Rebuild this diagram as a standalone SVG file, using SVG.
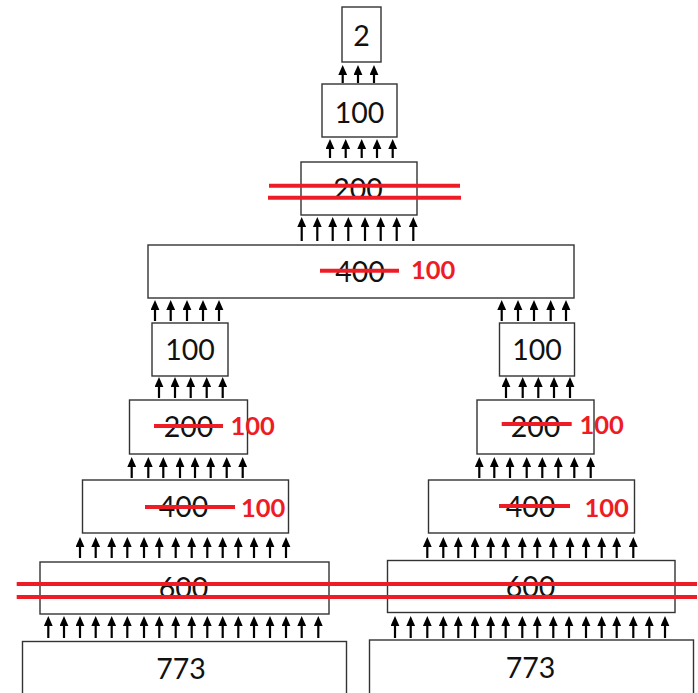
<svg xmlns="http://www.w3.org/2000/svg" width="698" height="693" viewBox="0 0 698 693">
<defs>
<style>
.box{fill:#fff;stroke:#333;stroke-width:1.4}
.t{font-family:Lato,"Liberation Sans",sans-serif;font-size:28.5px;fill:#111;text-anchor:middle}
.r{font-family:Lato,"Liberation Sans",sans-serif;font-size:25.5px;font-weight:bold;fill:#ee1c25}
.s{stroke:#ee1c25;stroke-width:4;fill:none}
.a{stroke:#000;stroke-width:2.2;marker-end:url(#h)}
</style>
<marker id="h" markerUnits="userSpaceOnUse" markerWidth="10" markerHeight="9" viewBox="0 0 9 8" refX="1" refY="4" orient="auto">
<path d="M0,0 L9,4 L0,8 Z" fill="#000"/>
</marker>
</defs>
<rect width="698" height="693" fill="#fff"/>

<g id="connectors">
<g>
<line class="a" x1="342.7" y1="83" x2="342.7" y2="74"/>
<line class="a" x1="358" y1="83" x2="358" y2="74"/>
<line class="a" x1="374" y1="83" x2="374" y2="74"/>
</g>
<g>
<line class="a" x1="330" y1="158" x2="330" y2="148"/>
<line class="a" x1="345.7" y1="158" x2="345.7" y2="148"/>
<line class="a" x1="361.7" y1="158" x2="361.7" y2="148"/>
<line class="a" x1="377" y1="158" x2="377" y2="148"/>
<line class="a" x1="392.7" y1="158" x2="392.7" y2="148"/>
</g>
<g>
<line class="a" x1="301.7" y1="241" x2="301.7" y2="226"/>
<line class="a" x1="317.3" y1="241" x2="317.3" y2="226"/>
<line class="a" x1="332.7" y1="241" x2="332.7" y2="226"/>
<line class="a" x1="348.3" y1="241" x2="348.3" y2="226"/>
<line class="a" x1="365" y1="241" x2="365" y2="226"/>
<line class="a" x1="380.7" y1="241" x2="380.7" y2="226"/>
<line class="a" x1="396.7" y1="241" x2="396.7" y2="226"/>
<line class="a" x1="413.3" y1="241" x2="413.3" y2="226"/>
</g>
<g>
<line class="a" x1="155" y1="321" x2="155" y2="309"/>
<line class="a" x1="170.7" y1="321" x2="170.7" y2="309"/>
<line class="a" x1="187" y1="321" x2="187" y2="309"/>
<line class="a" x1="203" y1="321" x2="203" y2="309"/>
<line class="a" x1="219" y1="321" x2="219" y2="309"/>
<line class="a" x1="501.7" y1="321" x2="501.7" y2="309"/>
<line class="a" x1="518" y1="321" x2="518" y2="309"/>
<line class="a" x1="534" y1="321" x2="534" y2="309"/>
<line class="a" x1="550.7" y1="321" x2="550.7" y2="309"/>
<line class="a" x1="566" y1="321" x2="566" y2="309"/>
</g>
<g>
<line class="a" x1="159" y1="398" x2="159" y2="386"/>
<line class="a" x1="175" y1="398" x2="175" y2="386"/>
<line class="a" x1="190.7" y1="398" x2="190.7" y2="386"/>
<line class="a" x1="206.7" y1="398" x2="206.7" y2="386"/>
<line class="a" x1="222.7" y1="398" x2="222.7" y2="386"/>
<line class="a" x1="506" y1="398" x2="506" y2="386"/>
<line class="a" x1="522.7" y1="398" x2="522.7" y2="386"/>
<line class="a" x1="538.3" y1="398" x2="538.3" y2="386"/>
<line class="a" x1="554" y1="398" x2="554" y2="386"/>
<line class="a" x1="570" y1="398" x2="570" y2="386"/>
</g>
<g>
<line class="a" x1="131.7" y1="478" x2="131.7" y2="466"/>
<line class="a" x1="148.3" y1="478" x2="148.3" y2="466"/>
<line class="a" x1="163.3" y1="478" x2="163.3" y2="466"/>
<line class="a" x1="180" y1="478" x2="180" y2="466"/>
<line class="a" x1="195" y1="478" x2="195" y2="466"/>
<line class="a" x1="210.7" y1="478" x2="210.7" y2="466"/>
<line class="a" x1="226.7" y1="478" x2="226.7" y2="466"/>
<line class="a" x1="242.7" y1="478" x2="242.7" y2="466"/>
<line class="a" x1="479.3" y1="478" x2="479.3" y2="466"/>
<line class="a" x1="494.3" y1="478" x2="494.3" y2="466"/>
<line class="a" x1="510" y1="478" x2="510" y2="466"/>
<line class="a" x1="526.7" y1="478" x2="526.7" y2="466"/>
<line class="a" x1="542.3" y1="478" x2="542.3" y2="466"/>
<line class="a" x1="558.3" y1="478" x2="558.3" y2="466"/>
<line class="a" x1="574.3" y1="478" x2="574.3" y2="466"/>
<line class="a" x1="590.7" y1="478" x2="590.7" y2="466"/>
</g>
<g>
<line class="a" x1="80" y1="558" x2="80" y2="546"/>
<line class="a" x1="95.7" y1="558" x2="95.7" y2="546"/>
<line class="a" x1="111.7" y1="558" x2="111.7" y2="546"/>
<line class="a" x1="127.3" y1="558" x2="127.3" y2="546"/>
<line class="a" x1="144" y1="558" x2="144" y2="546"/>
<line class="a" x1="159.3" y1="558" x2="159.3" y2="546"/>
<line class="a" x1="175.7" y1="558" x2="175.7" y2="546"/>
<line class="a" x1="191.7" y1="558" x2="191.7" y2="546"/>
<line class="a" x1="207.3" y1="558" x2="207.3" y2="546"/>
<line class="a" x1="222.7" y1="558" x2="222.7" y2="546"/>
<line class="a" x1="238.3" y1="558" x2="238.3" y2="546"/>
<line class="a" x1="254" y1="558" x2="254" y2="546"/>
<line class="a" x1="270" y1="558" x2="270" y2="546"/>
<line class="a" x1="286" y1="558" x2="286" y2="546"/>
<line class="a" x1="427.3" y1="558" x2="427.3" y2="546"/>
<line class="a" x1="443.3" y1="558" x2="443.3" y2="546"/>
<line class="a" x1="458.3" y1="558" x2="458.3" y2="546"/>
<line class="a" x1="475" y1="558" x2="475" y2="546"/>
<line class="a" x1="490.7" y1="558" x2="490.7" y2="546"/>
<line class="a" x1="505.7" y1="558" x2="505.7" y2="546"/>
<line class="a" x1="522.3" y1="558" x2="522.3" y2="546"/>
<line class="a" x1="537.3" y1="558" x2="537.3" y2="546"/>
<line class="a" x1="553.3" y1="558" x2="553.3" y2="546"/>
<line class="a" x1="570" y1="558" x2="570" y2="546"/>
<line class="a" x1="586" y1="558" x2="586" y2="546"/>
<line class="a" x1="601.7" y1="558" x2="601.7" y2="546"/>
<line class="a" x1="616.7" y1="558" x2="616.7" y2="546"/>
<line class="a" x1="633.3" y1="558" x2="633.3" y2="546"/>
</g>
<g>
<line class="a" x1="48.3" y1="638" x2="48.3" y2="625"/>
<line class="a" x1="64" y1="638" x2="64" y2="625"/>
<line class="a" x1="80" y1="638" x2="80" y2="625"/>
<line class="a" x1="95.7" y1="638" x2="95.7" y2="625"/>
<line class="a" x1="111.7" y1="638" x2="111.7" y2="625"/>
<line class="a" x1="127.3" y1="638" x2="127.3" y2="625"/>
<line class="a" x1="144" y1="638" x2="144" y2="625"/>
<line class="a" x1="159.3" y1="638" x2="159.3" y2="625"/>
<line class="a" x1="175.7" y1="638" x2="175.7" y2="625"/>
<line class="a" x1="191.7" y1="638" x2="191.7" y2="625"/>
<line class="a" x1="207.3" y1="638" x2="207.3" y2="625"/>
<line class="a" x1="222.7" y1="638" x2="222.7" y2="625"/>
<line class="a" x1="238.3" y1="638" x2="238.3" y2="625"/>
<line class="a" x1="254" y1="638" x2="254" y2="625"/>
<line class="a" x1="270" y1="638" x2="270" y2="625"/>
<line class="a" x1="286" y1="638" x2="286" y2="625"/>
<line class="a" x1="301.7" y1="638" x2="301.7" y2="625"/>
<line class="a" x1="318.3" y1="638" x2="318.3" y2="625"/>
<line class="a" x1="395" y1="638" x2="395" y2="625"/>
<line class="a" x1="410.7" y1="638" x2="410.7" y2="625"/>
<line class="a" x1="427.3" y1="638" x2="427.3" y2="625"/>
<line class="a" x1="443.3" y1="638" x2="443.3" y2="625"/>
<line class="a" x1="458.3" y1="638" x2="458.3" y2="625"/>
<line class="a" x1="475" y1="638" x2="475" y2="625"/>
<line class="a" x1="490.7" y1="638" x2="490.7" y2="625"/>
<line class="a" x1="505.7" y1="638" x2="505.7" y2="625"/>
<line class="a" x1="522.3" y1="638" x2="522.3" y2="625"/>
<line class="a" x1="537.3" y1="638" x2="537.3" y2="625"/>
<line class="a" x1="553.3" y1="638" x2="553.3" y2="625"/>
<line class="a" x1="569" y1="638" x2="569" y2="625"/>
<line class="a" x1="586" y1="638" x2="586" y2="625"/>
<line class="a" x1="601.7" y1="638" x2="601.7" y2="625"/>
<line class="a" x1="616.7" y1="638" x2="616.7" y2="625"/>
<line class="a" x1="633.3" y1="638" x2="633.3" y2="625"/>
<line class="a" x1="649.3" y1="638" x2="649.3" y2="625"/>
<line class="a" x1="665" y1="638" x2="665" y2="625"/>
</g>
</g>

<g id="n-2">
<rect class="box" x="342" y="7" width="39" height="55"/>
<text class="t" x="361.5" y="46">2</text>
</g>
<g id="n-100-top">
<rect class="box" x="322" y="84" width="75" height="53"/>
<text class="t" x="359.5" y="123">100</text>
</g>
<g id="n-200-top">
<rect class="box" x="301" y="162" width="116" height="53"/>
<text class="t" x="358" y="198.5">200</text>
<line class="s" x1="269" y1="185.7" x2="460" y2="185.7"/>
<line class="s" x1="268" y1="197.7" x2="461" y2="197.7"/>
</g>
<g id="n-400-top">
<rect class="box" x="148" y="245" width="426" height="53"/>
<text class="t" x="360" y="281.5">400</text>
<line class="s" x1="320" y1="270.7" x2="399" y2="270.7"/>
<text class="r" x="411" y="279">100</text>
</g>

<g id="n-100-left">
<rect class="box" x="152" y="323" width="76" height="53"/>
<text class="t" x="190" y="359.5">100</text>
</g>
<g id="n-200-left">
<rect class="box" x="129.5" y="400" width="118" height="54"/>
<text class="t" x="188.5" y="437">200</text>
<line class="s" x1="154" y1="426" x2="223" y2="426"/>
<text class="r" x="230.5" y="435">100</text>
</g>
<g id="n-400-left">
<rect class="box" x="82.5" y="480" width="206" height="53"/>
<text class="t" x="183.5" y="517">400</text>
<line class="s" x1="145" y1="507" x2="235" y2="507"/>
<text class="r" x="241" y="516.5">100</text>
</g>
<g id="n-600-left">
<rect class="box" x="40" y="562" width="289" height="52"/>
<text class="t" x="183.5" y="598">600</text>
</g>
<g id="n-773-left">
<rect class="box" x="22.5" y="641.5" width="324" height="60"/>
<text class="t" x="181" y="679">773</text>
</g>

<g id="n-100-right">
<rect class="box" x="499.5" y="323" width="75" height="53"/>
<text class="t" x="537" y="359.5">100</text>
</g>
<g id="n-200-right">
<rect class="box" x="477" y="400" width="117" height="54"/>
<text class="t" x="535.5" y="437">200</text>
<line class="s" x1="501.7" y1="424" x2="571.7" y2="424"/>
<text class="r" x="579.5" y="434">100</text>
</g>
<g id="n-400-right">
<rect class="box" x="428.5" y="480" width="206" height="53"/>
<text class="t" x="530.5" y="517">400</text>
<line class="s" x1="499" y1="506" x2="570" y2="506"/>
<text class="r" x="584.5" y="516.5">100</text>
</g>
<g id="n-600-right">
<rect class="box" x="387.5" y="560.5" width="287.5" height="52"/>
<text class="t" x="530.5" y="597">600</text>
</g>
<g id="n-773-right">
<rect class="box" x="369.5" y="640" width="324" height="60"/>
<text class="t" x="530.5" y="678">773</text>
</g>

<g id="strike-600">
<line class="s" x1="16.7" y1="584" x2="697" y2="584"/>
<line class="s" x1="16.7" y1="597" x2="697" y2="597"/>
</g>
</svg>
